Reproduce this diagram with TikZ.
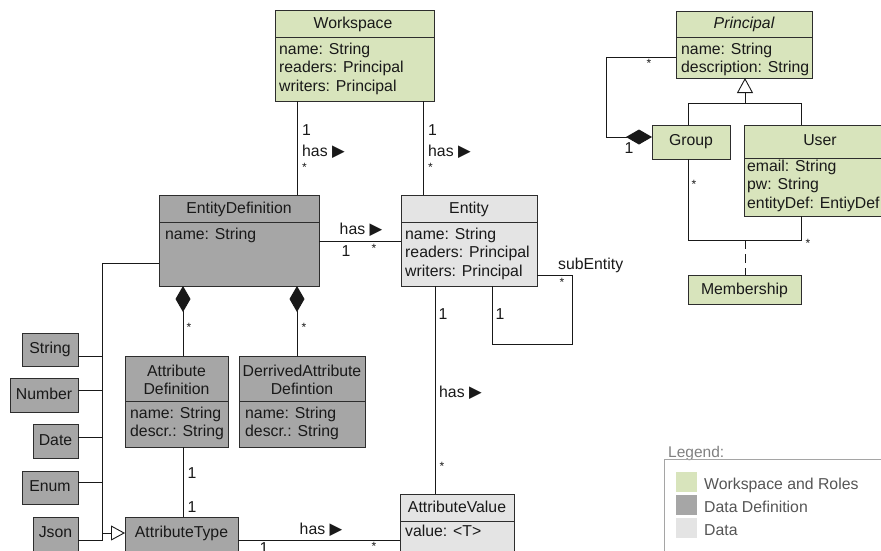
\documentclass[tikz,border=0pt]{standalone}
\usepackage{fontspec}
\setmainfont{Liberation Sans}
\newfontfamily\symfont{DejaVu Sans}
\usetikzlibrary{arrows.meta,fit}

\definecolor{roleg}{RGB}{216,228,188}
\definecolor{defg}{RGB}{166,166,166}
\definecolor{datag}{RGB}{228,228,228}
\definecolor{edgec}{RGB}{45,45,45}
\definecolor{inkc}{RGB}{25,25,25}
\definecolor{legc}{RGB}{85,85,85}
\definecolor{legbd}{RGB}{165,165,165}

\tikzset{
  box/.style={draw=edgec, line width=0.9pt, inner sep=0pt, outer sep=0pt},
  sep/.style={draw=edgec, line width=0.9pt},
  ttl/.style={inner sep=0pt, font=\fontsize{15.8}{18.5}\selectfont, text=inkc,
              text height=11.5pt, text depth=3.3pt},
  ttl2/.style={inner sep=0pt, anchor=north, align=center,
               font=\fontsize{15.8}{18.5}\selectfont, text=inkc},
  attr/.style={inner sep=0pt, anchor=north west, align=left,
               font=\fontsize{15.8}{18.5}\selectfont, text=inkc},
  lbl/.style={inner sep=0pt, font=\fontsize{15.8}{18.5}\selectfont, text=inkc},
  mult/.style={inner sep=0pt, font=\fontsize{12}{14}\selectfont, text=inkc},
  conn/.style={draw=inkc, line width=0.9pt},
  comp/.style={conn, {Diamond[length=26pt,width=15pt]}-},
  inh/.style={conn, -{Triangle[open,length=15pt,width=16pt,fill=white]}},
  legtext/.style={inner sep=0pt, anchor=west, font=\fontsize{15.8}{18.5}\selectfont,
                  text=legc, text height=11.5pt, text depth=3.3pt},
}
\newcommand\hasdir{has {\symfont\fontsize{16.5}{18}\selectfont ▶}}

\begin{document}
\begin{tikzpicture}[x=1pt,y=-1pt]
\useasboundingbox (0,0) rectangle (881,550);

% ---------- Workspace and roles ----------
\node[box, fill=roleg, fit={(275,10) (434,101)}] (ws) {};
\draw[sep] (ws.west |- 0,37) -- (ws.east |- 0,37);
\node[ttl] (wst) at (353,24) {Workspace};
\node[attr] (wsa) at (279,41) {\strut name: String\\readers: Principal\\writers: Principal};

\node[box, fill=roleg, fit={(676,11) (812,78)}] (pr) {};
\draw[sep] (pr.west |- 0,37) -- (pr.east |- 0,37);
\node[ttl] (prt) at (744,24) {\itshape Principal};
\node[attr] (pra) at (681,41) {\strut name: String\\description: String};

\node[box, fill=roleg, fit={(652,125) (730,159)}] (gr) {};
\node[ttl] (grt) at (691,141) {Group};

\node[box, fill=roleg, fit={(744,125) (896,216)}] (us) {};
\draw[sep] (us.west |- 0,158) -- (us.east |- 0,158);
\node[ttl] (ust) at (820,141) {User};
\node[attr] (usa) at (747,158) {\strut email: String\\pw: String\\entityDef: EntiyDef};

\node[box, fill=roleg, fit={(688,275) (801,304)}] (mb) {};
\node[ttl] (mbt) at (744.5,290) {Membership};

% ---------- Data definition ----------
\node[box, fill=defg, fit={(159,195) (319,286)}] (ed) {};
\draw[sep] (ed.west |- 0,222) -- (ed.east |- 0,222);
\node[ttl] (edt) at (239,209) {EntityDefinition};
\node[attr] (eda) at (165,226) {\strut name: String};

\node[box, fill=defg, fit={(125,356) (228,447)}] (ad) {};
\draw[sep] (ad.west |- 0,401) -- (ad.east |- 0,401);
\node[ttl2] (adt) at (176.5,363) {\strut Attribute\\Definition};
\node[attr] (ada) at (130,405) {\strut name: String\\descr.: String};

\node[box, fill=defg, fit={(239,356) (365,447)}] (dad) {};
\draw[sep] (dad.west |- 0,401) -- (dad.east |- 0,401);
\node[ttl2] (dadt) at (302,363) {\strut DerrivedAttribute\\Defintion};
\node[attr] (dada) at (245,405) {\strut name: String\\descr.: String};

\node[box, fill=defg, fit={(22,333) (78,366)}] (str) {};
\node[ttl] (strt) at (str.center) {String};
\node[box, fill=defg, fit={(10,378) (78,412)}] (num) {};
\node[ttl] (numt) at (num.center) {Number};
\node[box, fill=defg, fit={(33,424) (78,458)}] (dat) {};
\node[ttl] (datt) at (dat.center) {Date};
\node[box, fill=defg, fit={(22,471) (78,504)}] (enu) {};
\node[ttl] (enut) at (enu.center) {Enum};
\node[box, fill=defg, fit={(33,517) (78,566)}] (json) {};
\node[ttl] (jsont) at (55.5,533) {Json};

\node[box, fill=defg, fit={(125,517) (238,566)}] (aty) {};
\node[ttl] (atyt) at (181.5,533) {AttributeType};

% ---------- Data ----------
\node[box, fill=datag, fit={(401,195) (537,286)}] (en) {};
\draw[sep] (en.west |- 0,222) -- (en.east |- 0,222);
\node[ttl] (ent) at (469,209) {Entity};
\node[attr] (ena) at (405,226) {\strut name: String\\readers: Principal\\writers: Principal};

\node[box, fill=datag, fit={(400,494) (514,566)}] (av) {};
\draw[sep] (av.west |- 0,521) -- (av.east |- 0,521);
\node[ttl] (avt) at (457,508) {AttributeValue};
\node[attr] (ava) at (405,523) {\strut value: <T>};

% ---------- Connectors ----------
% Workspace has EntityDefinitions and Entities
\draw[conn] (ws.south -| 297,0) -- (ed.north -| 297,0);
\node[lbl, anchor=west] (m1) at (302,130) {1};
\node[lbl, anchor=west] (h1) at (302,152) {\hasdir};
\node[mult, anchor=west] (s1) at (302,167) {*};

\draw[conn] (ws.south -| 423,0) -- (en.north -| 423,0);
\node[lbl, anchor=west] (m2) at (428,130) {1};
\node[lbl, anchor=west] (h2) at (428,152) {\hasdir};
\node[mult, anchor=west] (s2) at (428,167) {*};

% EntityDefinition has Entities
\draw[conn] (ed.east |- 0,241) -- (en.west |- 0,241);
\node[lbl] (h3) at (361,230) {\hasdir};
\node[lbl] (m3) at (346,251) {1};
\node[mult] (s3) at (374,248) {*};

% Attribute definitions are composed into EntityDefinition
\draw[comp] (ed.south -| 183,0) -- (ad.north -| 183,0);
\node[mult] (s4) at (189,327) {*};
\draw[comp] (ed.south -| 297,0) -- (dad.north -| 297,0);
\node[mult] (s5) at (304,327) {*};

% Entity has AttributeValues
\draw[conn] (en.south -| 435,0) -- (av.north -| 435,0);
\node[lbl] (m6) at (443,314) {1};
\node[lbl, anchor=west] (h6) at (439,393) {\hasdir};
\node[mult] (s6) at (442,466) {*};

% Entity self association (subEntity)
\draw[conn] (en.south -| 492,0) |- (572,344) |- (en.east |- 0,275);
\node[lbl] (m7) at (500,314) {1};
\node[mult] (s7) at (562,282) {*};
\node[lbl, anchor=west] (se) at (558,265) {subEntity};

% AttributeDefinition - AttributeType
\draw[conn] (ad.south -| 183,0) -- (aty.north -| 183,0);
\node[lbl] (m8a) at (192,473) {1};
\node[lbl] (m8b) at (192,507) {1};

% AttributeType has AttributeValues
\draw[conn] (aty.east |- 0,540) -- (av.west |- 0,540);
\node[lbl] (h9) at (321,530) {\hasdir};
\node[lbl] (m9) at (264,548) {1};
\node[mult] (s9) at (374,546) {*};

% Attribute type hierarchy
\coordinate (bus) at (102,533);
\draw[conn] (ed.west |- 0,263) -| (102,540) -- (json.east |- 0,540);
\draw[conn] (str.east |- 0,356) -- (bus |- 0,356);
\draw[conn] (num.east |- 0,390) -- (bus |- 0,390);
\draw[conn] (dat.east |- 0,437) -- (bus |- 0,437);
\draw[conn] (enu.east |- 0,482) -- (bus |- 0,482);
\draw[conn, -{Triangle[open,length=14pt,width=15pt,fill=white]}] (bus) -- (aty.west |- bus);

% Principal hierarchy
\coordinate (gbar) at (745,103);
\draw[conn] (gr.north -| 688,0) |- (801,103) -- (us.north -| 801,0);
\draw[inh] (gbar) -- (pr.south -| gbar);

% Group contains Principals
\draw[comp] (gr.west |- 0,137) -| (606,57) -- (pr.west |- 0,57);
\node[mult] (s10) at (649,63) {*};
\node[lbl] (m10) at (629,148) {1};

% Group - User membership association
\coordinate (mbj) at (745,240);
\draw[conn] (gr.south -| 688,0) |- (801,240) -- (us.south -| 801,0);
\draw[conn, dash pattern=on 9pt off 5pt] (mbj) -- (mb.north -| mbj);
\node[mult] (s11) at (694,184) {*};
\node[mult] (s12) at (808,243) {*};

% ---------- Legend ----------
\node[inner sep=0pt, anchor=west, font=\fontsize{15.5}{18}\selectfont, text=black!50,
      text height=11.5pt, text depth=3.3pt] (legt) at (668,453) {Legend:};
\node[draw=legbd, line width=0.9pt, inner sep=0pt, fit={(664,459) (890,566)}] (leg) {};
\fill[roleg] (676,472) rectangle (697,492);
\fill[defg]  (676,495) rectangle (697,515);
\fill[datag] (676,518) rectangle (697,538);
\node[legtext] (lg1) at (704,485) {Workspace and Roles};
\node[legtext] (lg2) at (704,508) {Data Definition};
\node[legtext] (lg3) at (704,531) {Data};
\end{tikzpicture}
\end{document}
